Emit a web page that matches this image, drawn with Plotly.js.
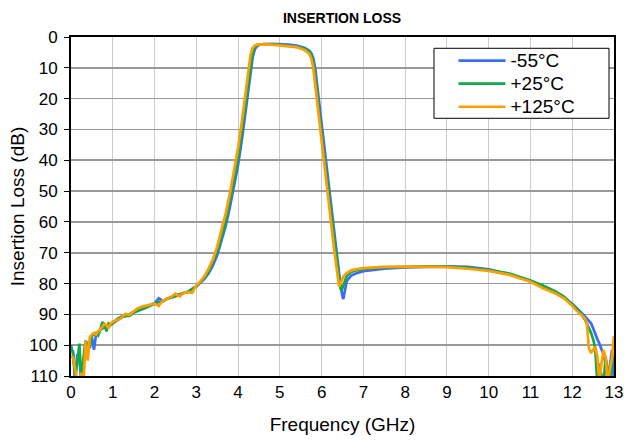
<!DOCTYPE html>
<html>
<head>
<meta charset="utf-8">
<script src="https://cdn.plot.ly/plotly-3.0.1.min.js"></script>
<style>html,body{margin:0;padding:0;background:#fff;}#chart{width:624px;height:440px;}</style>
</head>
<body>
<div id="chart"></div>
<script>
// Frequency grid (GHz)
const freq = [
  0,0.05,0.1,0.15,0.2,0.25,0.3,0.35,0.4,0.45,
  0.5,0.55,0.6,0.65,0.7,0.75,0.8,0.85,0.9,0.95,
  1.0,1.1,1.2,1.3,1.4,1.5,1.6,1.7,1.8,1.9,
  2.0,2.1,2.2,2.3,2.4,2.5,2.6,2.7,2.8,2.9,
  3.0,3.1,3.2,3.3,3.4,3.5,3.6,3.7,3.8,3.9,
  4.0,4.1,4.2,4.25,4.3,4.35,4.4,4.45,4.5,4.6,
  4.8,5.0,5.2,5.4,5.5,5.6,5.7,5.75,5.8,5.85,
  5.9,6.0,6.1,6.2,6.3,6.4,6.42,6.45,6.48,6.5,
  6.52,6.55,6.6,6.7,6.8,7.0,7.2,7.5,8.0,8.5,
  9.0,9.5,10.0,10.5,11.0,11.3,11.6,11.8,12.0,12.1,
  12.2,12.3,12.35,12.4,12.45,12.5,12.55,12.6,12.65,12.7,
  12.75,12.8,12.85,12.9,12.95,13.0
];
// Insertion loss (dB) at -55°C
const lossM55 = [
  101.5,102,112,103,104,112,106,99,99.5,99,
  97.5,101.5,96.5,96,95,94.5,94,93.8,93.5,93.2,
  92.8,92,91,90.6,90,89.2,88.6,88.3,87.5,86.9,
  86.4,84.8,85.6,85,84.5,83.8,83.6,83,82.8,81.7,
  81,79.8,78.4,76.6,74,70.8,66.5,61.5,55.5,48.5,
  41.5,32.5,22.5,17.5,11.5,6.5,4,3.0,2.6,2.3,
  2.2,2.3,2.5,2.8,3.1,3.6,4.4,5.2,6.8,10.5,
  16.5,28.5,40,51.5,63,74.5,76.8,80.2,83,84.2,
  85,82.2,79.2,77.5,76.8,76,75.6,75.2,74.8,74.5,
  74.4,74.6,75.4,76.9,79.1,80.9,83,84.6,86.6,87.8,
  89.2,90.6,91.3,92,92.9,94.5,96.5,98,99.5,101,
  103,106,112,107,101.6,112
];
// Insertion loss (dB) at +25°C
const loss25 = [
  100,103,110,106,99.5,112,104,98.5,100,101,
  97,96.5,96,96.8,95,92.5,93.5,95.5,93,93.5,
  93,91.5,90.8,90.5,90.5,89.5,89,88.5,87.8,87.2,
  86.6,86,85.8,84.9,84.6,84,83.6,83.1,82.6,81.8,
  80.8,79.5,78,76,73,69.5,65,60,53.5,46,
  39,29.5,19.5,14.5,8.5,5,3.3,2.7,2.5,2.4,
  2.4,2.5,2.8,3.1,3.4,3.9,4.8,5.8,8,13,
  19.5,31.5,43,54.5,66,77.5,79.5,81.5,82.3,81.5,
  80.5,79,77.5,76.3,75.8,75.3,75,74.8,74.6,74.4,
  74.5,74.9,75.6,76.8,79,80.6,82.6,84.2,86.8,88.2,
  89.6,91.6,93,94.5,96,98,101,112,106,110,
  112,104,108,112,106,103.5
];
// Insertion loss (dB) at +125°C
const loss125 = [
  103.5,104,108,112,112,109,112,98.5,105,97.5,
  96.5,96,96.5,95.5,95,94,93,93.5,94.5,93,
  92.4,91.8,91.3,89.8,90.2,89,88,87.5,87.2,86.8,
  86.5,87.3,85.5,85,84.3,83.3,84.2,83,82.8,83,
  80.6,79.3,77.5,75,72,68,63,57.5,51,43.5,
  36,26.5,16,11,5.5,3.5,2.8,2.5,2.4,2.4,
  2.5,2.7,3.0,3.3,3.7,4.3,5.4,6.8,10,16,
  23,34.5,46,57.5,69,79,81,80,79,78.3,
  77.8,77.3,76.6,75.8,75.4,75,74.8,74.6,74.5,74.5,
  74.7,75.2,75.9,77.2,79.4,81.5,83.2,84.8,87.2,88.8,
  90,91.2,93,101,102.5,101.5,100.5,103.5,112,106,
  101.5,104,112,108,104.3,97
];
const seriesNames = ['-55°C', '+25°C', '+125°C'];
const seriesColors = ['#3b6cf5', '#12a94c', '#ff9e00'];
const xTicks = [0,1,2,3,4,5,6,7,8,9,10,11,12,13];
const yTicks = [0,10,20,30,40,50,60,70,80,90,100,110];

const allLoss = [lossM55, loss25, loss125];
const traces = allLoss.map((ys, i) => ({
  x: freq, y: ys, name: '<span style="font-size:19px">' + seriesNames[i] + '</span>',
  type: 'scatter', mode: 'lines',
  line: {color: seriesColors[i], width: 2.7}
}));

const fontFam = 'Liberation Sans, Arial, sans-serif';
const layout = {
  width: 624, height: 440,
  margin: {l: 71, r: 10, t: 37, b: 64},
  paper_bgcolor: '#fff', plot_bgcolor: '#fff',
  font: {family: fontFam, color: '#000', size: 17},
  title: {text: '<b>INSERTION LOSS</b>', font: {size: 14, family: fontFam, color: '#000'},
          x: 0.5481, xref: 'container', xanchor: 'center', y: 0.959, yref: 'container', yanchor: 'middle'},
  xaxis: {
    range: [0, 13], tickvals: xTicks, ticktext: xTicks.map(String),
    showgrid: true, gridcolor: '#cccccc', gridwidth: 1,
    showline: true, linecolor: '#000', linewidth: 2, mirror: true,
    ticks: '', zeroline: false, ticklabelstandoff: 0,
    tickfont: {size: 17, family: fontFam},
    title: {text: 'Frequency (GHz)', font: {size: 19, family: fontFam}, standoff: 16},
    automargin: false
  },
  yaxis: {
    range: [110, 0], tickvals: yTicks, ticktext: yTicks.map(String),
    showgrid: true, gridcolor: '#999999', gridwidth: 1.6,
    showline: true, linecolor: '#000', linewidth: 2, mirror: true,
    ticks: 'outside', ticklen: 5, tickcolor: '#000', tickwidth: 1, zeroline: false,
    ticklabelstandoff: 3,
    tickfont: {size: 17, family: fontFam},
    title: {text: 'Insertion Loss (dB)', font: {size: 19, family: fontFam}, standoff: 0},
    automargin: false
  },
  shapes: [{
    type: 'rect', xref: 'paper', yref: 'paper',
    x0: 0.6685, x1: 0.9908, y0: 0.7602, y1: 0.9667,
    fillcolor: '#fff', line: {color: '#000', width: 1}, layer: 'above'
  }],
  legend: {
    x: 0.7044, y: 0.9788, xanchor: 'left', yanchor: 'top',
    bgcolor: 'rgba(0,0,0,0)', borderwidth: 0,
    font: {size: 15.4, family: fontFam, color: '#000'},
    itemwidth: 47, tracegroupgap: 0
  },
  showlegend: true
};

Plotly.newPlot('chart', traces, layout, {displayModeBar: false, staticPlot: true});
</script>
</body>
</html>
